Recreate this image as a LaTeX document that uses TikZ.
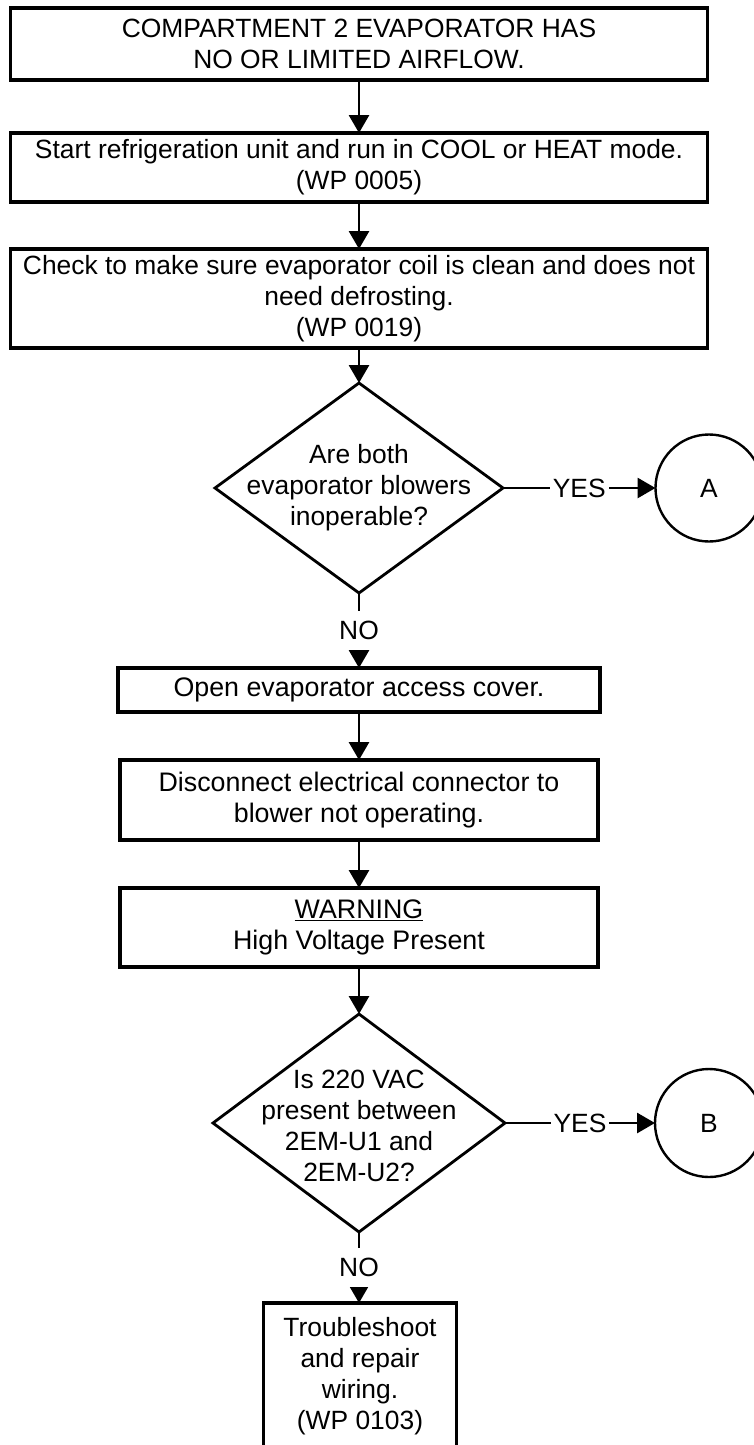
\documentclass[tikz,border=0pt]{standalone}
\usepackage{fontspec}
\setmainfont{Liberation Sans}
\usetikzlibrary{shapes.geometric,arrows.meta}

\tikzset{
  stepbox/.style={draw, line width=3.3pt, align=center, inner sep=0pt, outer sep=0pt},
  widebox/.style={stepbox, font=\fontsize{26.8}{31}\selectfont},
  decision/.style={diamond, draw, line width=2.8pt, inner sep=0pt, outer sep=0pt},
  question/.style={align=center, inner sep=0pt},
  connector/.style={circle, draw, line width=2.4pt, inner sep=0pt, outer sep=0pt},
  flow/.style={line width=2.9pt, -{Triangle[length=18pt,width=20pt]}},
  answer/.style={fill=white, inner xsep=3pt, inner ysep=10pt}
}

\begin{document}
\begin{tikzpicture}[x=1pt, y=-1pt, font=\fontsize{26.4}{31}\selectfont]
  \useasboundingbox (0,0) rectangle (754,1445);

  % main column of steps
  \node[stepbox, minimum width=697pt, minimum height=72pt] (b1) at (359,44)
    {COMPARTMENT 2 EVAPORATOR HAS\\NO OR LIMITED AIRFLOW.};
  \node[stepbox, minimum width=697pt, minimum height=69pt] (b2) at (359,167.5)
    {Start refrigeration unit and run in COOL or HEAT mode.\\(WP 0005)};
  \node[stepbox, minimum width=697pt, minimum height=99pt] (b3) at (359,298.5)
    {Check to make sure evaporator coil is clean and does not\\need defrosting.\\(WP 0019)};

  % first decision
  \node[decision, minimum width=288pt, minimum height=210pt] (d1) at (359,488) {};
  \node[question] (d1t) at (d1.center)
    {Are both\\evaporator blowers\\inoperable?};
  \node[connector, minimum size=107pt] (cA) at (709,488) {A};

  \node[widebox, minimum width=482pt, minimum height=44pt] (b4) at (359,690)
    {Open evaporator access cover.};
  \node[widebox, minimum width=478pt, minimum height=80pt] (b5) at (359,800)
    {Disconnect electrical connector to\\blower not operating.};
  \node[widebox, minimum width=478pt, minimum height=79pt] (b6) at (359,927.5)
    {\underline{WARNING}\\High Voltage Present};

  % second decision
  \node[decision, minimum width=292pt, minimum height=218pt] (d2) at (359,1123) {};
  \node[question] (d2t) at ([yshift=-3pt]d2.center)
    {Is 220 VAC\\present between\\2EM-U1 and\\2EM-U2?};
  \node[connector, minimum size=108pt] (cB) at (709,1123) {B};

  \node[stepbox, minimum width=193pt, minimum height=146pt] (b7) at (360,1376)
    {Troubleshoot\\and repair\\wiring.\\(WP 0103)};

  % connectors
  \draw[flow] (b1.south) -- (b2.north);
  \draw[flow] (b2.south) -- (b3.north);
  \draw[flow] (b3.south) -- (d1.north);
  \draw[flow] (d1.east) -- node[answer] (yes1) {YES} (cA.west);
  \draw[flow] (d1.south) -- node[answer] (no1) {NO} (b4.north);
  \draw[flow] (b4.south) -- (b5.north);
  \draw[flow] (b5.south) -- (b6.north);
  \draw[flow] (b6.south) -- (d2.north);
  \draw[flow] (d2.east) -- node[answer] (yes2) {YES} (cB.west);
  \draw[flow] (d2.south) -- node[answer] (no2) {NO} (b7.north -| d2.south);
\end{tikzpicture}
\end{document}
